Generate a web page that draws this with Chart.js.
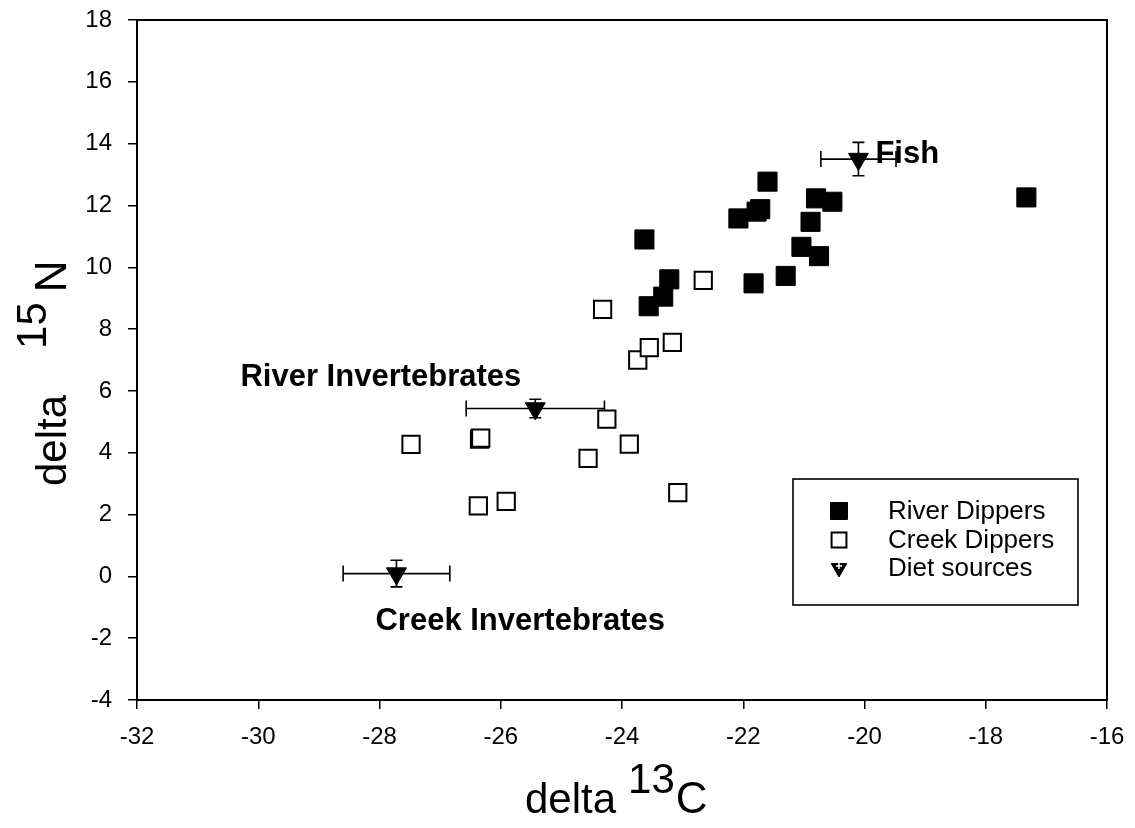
<!DOCTYPE html>
<html>
<head>
<meta charset="utf-8">
<title>delta 13C / delta 15N</title>
<script src="https://cdn.jsdelivr.net/npm/chart.js@4.4.1/dist/chart.umd.min.js"></script>
<style>
  html, body { margin: 0; padding: 0; background: #fff; }
  #wrap { width: 1135px; height: 828px; }
</style>
</head>
<body>
<div id="wrap"><canvas id="isoChart" width="1135" height="828"></canvas></div>
<script>
// River dippers (filled squares)
const riverC = [-23.63, -23.56, -23.32, -23.22, -22.08, -21.78, -21.72, -21.60, -21.83, -21.30, -21.04, -20.89, -20.80, -20.53, -20.75, -17.33];
const riverN = [10.90, 8.74, 9.05, 9.61, 11.58, 11.80, 11.88, 12.77, 9.48, 9.72, 10.66, 11.47, 12.23, 12.12, 10.36, 12.26];

// Creek dippers (open squares)
const creekC = [-24.32, -23.74, -23.55, -23.17, -22.66, -24.25, -23.88, -24.56, -26.35, -26.33, -27.48, -26.37, -25.91, -23.08];
const creekN = [8.64, 7.00, 7.40, 7.57, 9.58, 5.09, 4.28, 3.82, 4.44, 4.47, 4.27, 2.28, 2.43, 2.71];

// Diet sources: mean +/- error
const dietNames = ['Creek Invertebrates', 'River Invertebrates', 'Fish'];
const dietC = [-27.72, -25.43, -20.10];
const dietN = [0.09, 5.43, 13.50];
const dietCErr = [0.88, 1.14, 0.62];
const dietNErr = [0.43, 0.30, 0.54];

const xTicks = [-32, -30, -28, -26, -24, -22, -20, -18, -16];
const yTicks = [-4, -2, 0, 2, 4, 6, 8, 10, 12, 14, 16, 18];

const legendNames = ['River Dippers', 'Creek Dippers', 'Diet sources'];

const toPoints = (xs, ys) => xs.map((x, i) => ({ x, y: ys[i] }));

const FONT = "'Liberation Sans', Arial, sans-serif";

// label placement relative to each diet point (pixels)
const dietLabelOffset = [
  { dx: -21, dy: 56, align: 'left' },
  { dx: -14, dy: -23, align: 'right' },
  { dx: 17, dy: 4, align: 'left' }
];

const errorBars = {
  id: 'errorBars',
  beforeDatasetsDraw(chart) {
    const { ctx, scales: { x, y } } = chart;
    ctx.save();
    ctx.strokeStyle = '#000';
    ctx.lineWidth = 1.6;
    dietC.forEach((c, i) => {
      const px = x.getPixelForValue(c);
      const py = y.getPixelForValue(dietN[i]);
      const x0 = x.getPixelForValue(c - dietCErr[i]);
      const x1 = x.getPixelForValue(c + dietCErr[i]);
      const y0 = y.getPixelForValue(dietN[i] - dietNErr[i]);
      const y1 = y.getPixelForValue(dietN[i] + dietNErr[i]);
      ctx.beginPath();
      ctx.moveTo(x0, py); ctx.lineTo(x1, py);
      ctx.moveTo(x0, py - 8); ctx.lineTo(x0, py + 8);
      ctx.moveTo(x1, py - 8); ctx.lineTo(x1, py + 8);
      ctx.moveTo(px, y0); ctx.lineTo(px, y1);
      ctx.moveTo(px - 6, y0); ctx.lineTo(px + 6, y0);
      ctx.moveTo(px - 6, y1); ctx.lineTo(px + 6, y1);
      ctx.stroke();
    });
    ctx.restore();
  }
};

// pieces are drawn left to right; gap = extra space before the piece
function drawTitle(ctx, pieces, x0, baseline) {
  let cur = x0;
  pieces.forEach(p => {
    ctx.font = `${p.size}px ${FONT}`;
    cur += p.gap || 0;
    ctx.fillText(p.t, cur, baseline + p.dy);
    cur += ctx.measureText(p.t).width;
  });
}

const decorations = {
  id: 'decorations',
  afterDraw(chart) {
    const { ctx, chartArea: a, scales: { x, y } } = chart;
    ctx.save();

    // plot frame
    ctx.strokeStyle = '#000';
    ctx.lineWidth = 2;
    ctx.strokeRect(a.left, a.top, a.right - a.left, a.bottom - a.top);

    // diet source names
    ctx.fillStyle = '#000';
    ctx.font = `bold 31px ${FONT}`;
    ctx.textBaseline = 'alphabetic';
    dietNames.forEach((name, i) => {
      const o = dietLabelOffset[i];
      ctx.textAlign = o.align;
      ctx.fillText(name, x.getPixelForValue(dietC[i]) + o.dx, y.getPixelForValue(dietN[i]) + o.dy);
    });

    // axis titles
    ctx.textAlign = 'left';
    drawTitle(ctx, [
      { t: 'delta', size: 42, dy: 0 },
      { t: '13', size: 42, dy: -20, gap: 12 },
      { t: 'C', size: 44, dy: 0, gap: 1 }
    ], 525, 813);

    ctx.save();
    ctx.translate(66, 486);
    ctx.rotate(-Math.PI / 2);
    drawTitle(ctx, [
      { t: 'delta', size: 42, dy: 0 },
      { t: '15', size: 42, dy: -20, gap: 46 },
      { t: 'N', size: 44, dy: 0, gap: 10 }
    ], 0, 0);
    ctx.restore();

    // legend box
    const lx = 793, ly = 479, lw = 285, lh = 126;
    ctx.fillStyle = '#fff';
    ctx.fillRect(lx, ly, lw, lh);
    ctx.lineWidth = 1.6;
    ctx.strokeRect(lx, ly, lw, lh);
    const rows = [511, 540, 568];
    const markers = [
      { pointStyle: 'rect', radius: 12, borderWidth: 1, fill: true },
      { pointStyle: 'rect', radius: 10.5, borderWidth: 2, fill: false },
      { pointStyle: 'triangle', radius: 9, rotation: 180, borderWidth: 1, fill: true }
    ];
    ctx.font = `26px ${FONT}`;
    ctx.textBaseline = 'middle';
    ctx.textAlign = 'left';
    legendNames.forEach((name, i) => {
      const m = markers[i];
      ctx.fillStyle = m.fill ? '#000' : '#fff';
      ctx.strokeStyle = '#000';
      ctx.lineWidth = m.borderWidth;
      Chart.helpers.drawPoint(ctx, m, 839, rows[i]);
      ctx.fillStyle = '#000';
      ctx.fillText(name, 888, rows[i] + 1);
    });
    // white cross on the legend triangle
    ctx.strokeStyle = '#fff';
    ctx.lineWidth = 1.5;
    Chart.helpers.drawPoint(ctx, { pointStyle: 'cross', radius: 3, borderWidth: 1.5 }, 839, rows[2] - 2);

    ctx.restore();
  }
};

new Chart(document.getElementById('isoChart'), {
  type: 'scatter',
  data: {
    datasets: [
      {
        label: legendNames[0],
        data: toPoints(riverC, riverN),
        pointStyle: 'rect',
        pointRadius: 13.5,
        backgroundColor: '#000',
        borderColor: '#000',
        borderWidth: 1
      },
      {
        label: legendNames[1],
        data: toPoints(creekC, creekN),
        pointStyle: 'rect',
        pointRadius: 12.2,
        backgroundColor: '#fff',
        borderColor: '#000',
        borderWidth: 2
      },
      {
        label: legendNames[2],
        data: toPoints(dietC, dietN),
        pointStyle: 'triangle',
        rotation: 180,
        pointRadius: 11.5,
        backgroundColor: '#000',
        borderColor: '#000',
        borderWidth: 1
      },
      {
        label: 'diet centre',
        data: toPoints(dietC, dietN),
        pointStyle: 'cross',
        pointRadius: 4,
        borderColor: '#fff',
        borderWidth: 2
      }
    ]
  },
  options: {
    responsive: false,
    animation: false,
    layout: { padding: { left: 0, top: 20, right: 28, bottom: 0 } },
    plugins: { legend: { display: false }, tooltip: { enabled: false } },
    scales: {
      x: {
        type: 'linear',
        min: xTicks[0],
        max: xTicks[xTicks.length - 1],
        afterFit: s => { s.height = 128; s.paddingLeft = 0; s.paddingRight = 0; },
        afterBuildTicks: s => { s.ticks = xTicks.map(v => ({ value: v })); },
        grid: { drawOnChartArea: false, tickLength: 9, color: '#000', lineWidth: 1.5 },
        border: { color: '#000', width: 2 },
        ticks: { color: '#000', padding: 14, maxRotation: 0, font: { family: FONT, size: 24 } }
      },
      y: {
        type: 'linear',
        min: yTicks[0],
        max: yTicks[yTicks.length - 1],
        afterFit: s => { s.width = 137; s.paddingTop = 0; s.paddingBottom = 0; },
        afterBuildTicks: s => { s.ticks = yTicks.map(v => ({ value: v })); },
        grid: { drawOnChartArea: false, tickLength: 9, color: '#000', lineWidth: 1.5 },
        border: { color: '#000', width: 2 },
        ticks: { color: '#000', padding: 16, font: { family: FONT, size: 24 } }
      }
    }
  },
  plugins: [errorBars, decorations]
});
</script>
</body>
</html>
